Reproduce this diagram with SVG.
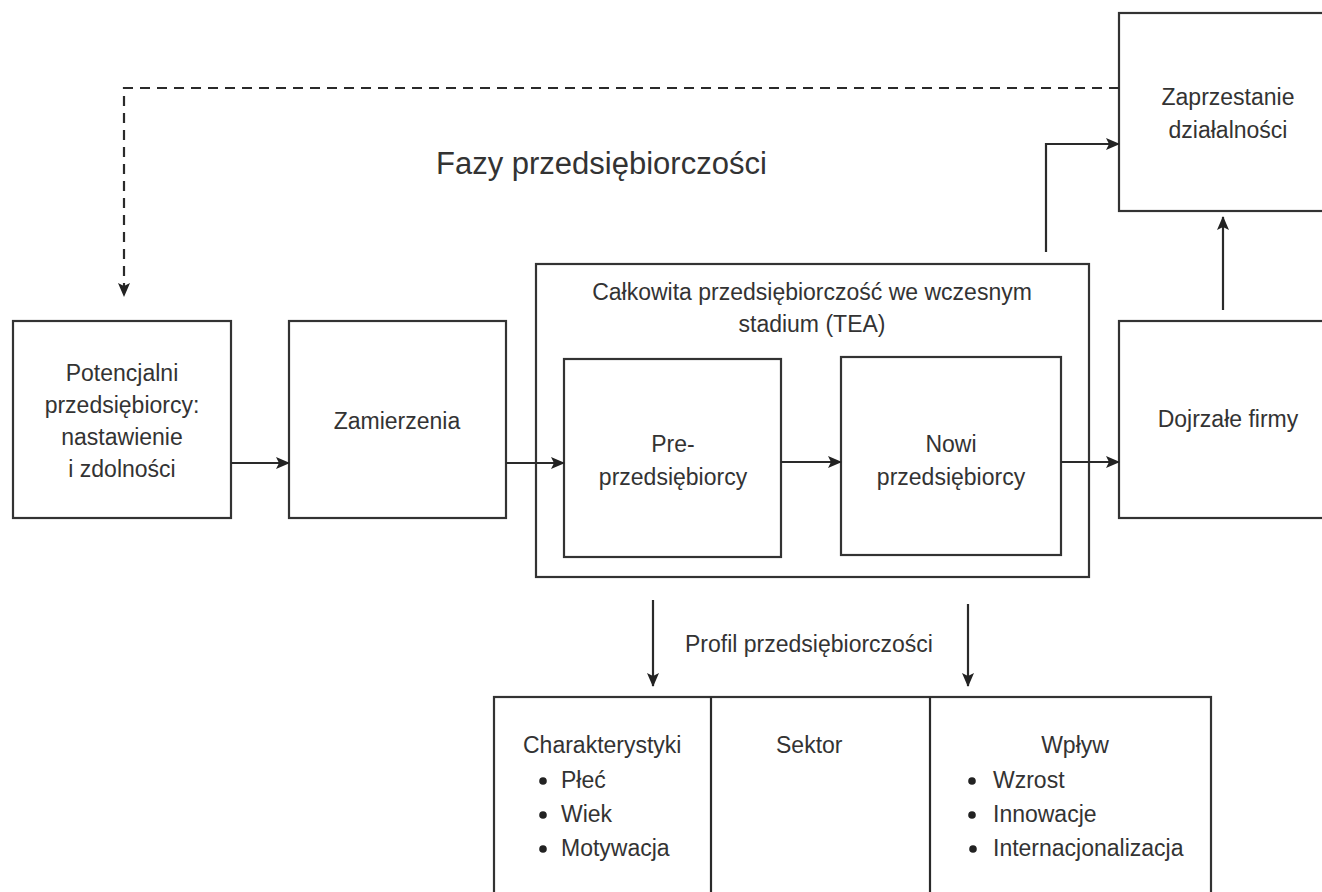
<svg xmlns="http://www.w3.org/2000/svg" width="1322" height="892" viewBox="0 0 1322 892">
<defs>
<style>
.box{fill:#fff;stroke:#333;stroke-width:2.2}
.t{font-family:"Liberation Sans",Arial,sans-serif;font-size:23px;fill:#333;text-anchor:middle}
.ts{font-family:"Liberation Sans",Arial,sans-serif;font-size:23px;fill:#333}
.title{font-family:"Liberation Sans",Arial,sans-serif;font-size:31px;fill:#333}
.ln{fill:none;stroke:#2a2a2a;stroke-width:2.2}
.dash{fill:none;stroke:#2a2a2a;stroke-width:2.2;stroke-dasharray:10 7}
.dot{fill:#222}
</style>
<marker id="ah" viewBox="0 0 14 12" refX="13" refY="6" markerWidth="14" markerHeight="12" markerUnits="userSpaceOnUse" orient="auto">
<path d="M0,0 L14,6 L0,12 L3,6 Z" fill="#222"/>
</marker>
</defs>
<rect width="1322" height="892" fill="#fff"/>

<text class="title" x="436" y="174">Fazy przedsiębiorczości</text>

<g id="zaprzestanie">
<rect class="box" x="1119" y="13" width="220" height="198"/>
<text class="t" x="1228" y="105">Zaprzestanie</text>
<text class="t" x="1228" y="138">działalności</text>
</g>

<g id="potencjalni">
<rect class="box" x="13" y="321" width="218" height="197"/>
<text class="t" x="122" y="381">Potencjalni</text>
<text class="t" x="122" y="413">przedsiębiorcy:</text>
<text class="t" x="122" y="445">nastawienie</text>
<text class="t" x="122" y="477">i zdolności</text>
</g>

<g id="zamierzenia">
<rect class="box" x="289" y="321" width="217" height="197"/>
<text class="t" x="397" y="429">Zamierzenia</text>
</g>

<g id="tea">
<rect class="box" x="536" y="264" width="553" height="313"/>
<text class="t" x="812" y="300">Całkowita przedsiębiorczość we wczesnym</text>
<text class="t" x="812" y="332">stadium (TEA)</text>
</g>

<g id="pre">
<rect class="box" x="564" y="359" width="217" height="198"/>
<text class="t" x="673" y="452">Pre-</text>
<text class="t" x="673" y="485">przedsiębiorcy</text>
</g>

<g id="nowi">
<rect class="box" x="841" y="357" width="220" height="198"/>
<text class="t" x="951" y="452">Nowi</text>
<text class="t" x="951" y="485">przedsiębiorcy</text>
</g>

<g id="dojrzale">
<rect class="box" x="1119" y="321" width="220" height="197"/>
<text class="t" x="1228" y="427">Dojrzałe firmy</text>
</g>

<g id="profil">
<text class="ts" x="685" y="652">Profil przedsiębiorczości</text>
</g>

<g id="tabela">
<rect class="box" x="494" y="697" width="717" height="210"/>
<line class="ln" x1="711" y1="697" x2="711" y2="900"/>
<line class="ln" x1="930" y1="697" x2="930" y2="900"/>
<text class="ts" x="523" y="753">Charakterystyki</text>
<circle class="dot" cx="543" cy="781" r="3.8"/>
<text class="ts" x="561" y="788">Płeć</text>
<circle class="dot" cx="543" cy="815" r="3.8"/>
<text class="ts" x="561" y="822">Wiek</text>
<circle class="dot" cx="543" cy="849" r="3.8"/>
<text class="ts" x="561" y="856">Motywacja</text>
<text class="ts" x="776" y="753">Sektor</text>
<text class="t" x="1075" y="753">Wpływ</text>
<circle class="dot" cx="972" cy="781" r="3.8"/>
<text class="ts" x="993" y="788">Wzrost</text>
<circle class="dot" cx="972" cy="815" r="3.8"/>
<text class="ts" x="993" y="822">Innowacje</text>
<circle class="dot" cx="973" cy="849" r="3.8"/>
<text class="ts" x="993" y="856">Internacjonalizacja</text>
</g>

<g id="connectors">
<path class="dash" d="M1119,88 H124 V296" marker-end="url(#ah)"/>
<line class="ln" x1="231" y1="463" x2="289" y2="463" marker-end="url(#ah)"/>
<line class="ln" x1="506" y1="463" x2="564" y2="463" marker-end="url(#ah)"/>
<line class="ln" x1="781" y1="462" x2="841" y2="462" marker-end="url(#ah)"/>
<line class="ln" x1="1061" y1="462" x2="1119" y2="462" marker-end="url(#ah)"/>
<path class="ln" d="M1046,252 V144 H1119" marker-end="url(#ah)"/>
<line class="ln" x1="1223" y1="310" x2="1223" y2="217" marker-end="url(#ah)"/>
<line class="ln" x1="653" y1="600" x2="653" y2="686" marker-end="url(#ah)"/>
<line class="ln" x1="968" y1="604" x2="968" y2="686" marker-end="url(#ah)"/>
</g>
</svg>
